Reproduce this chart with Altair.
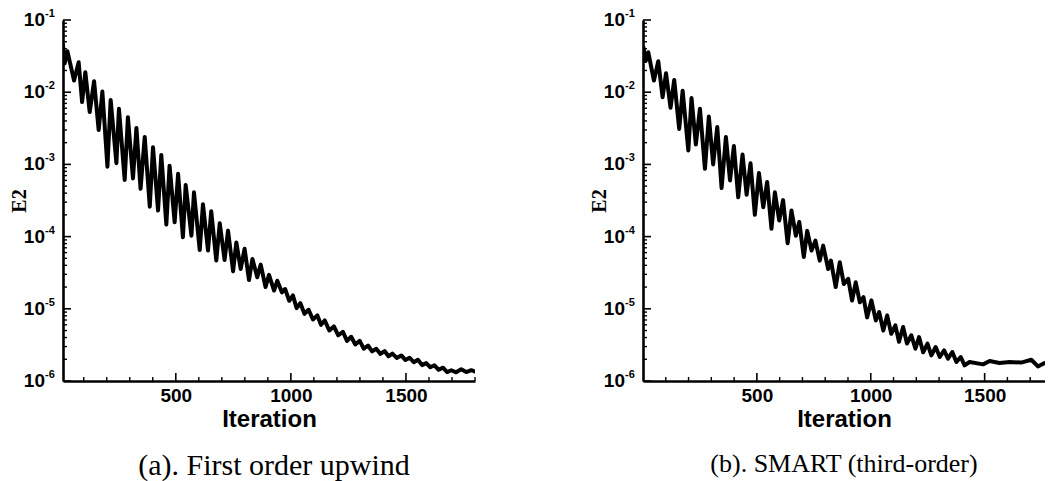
import altair as alt
import pandas as pd

# ---------------- data ----------------
A_PEAK_IT = [10, 29, 78, 107, 145, 181, 217, 253, 292, 329, 365, 401, 437, 473, 510, 543, 579, 618, 654, 691,
             727, 763, 799, 833, 869, 905, 941, 975, 1009, 1041, 1077, 1115, 1147, 1187, 1226, 1262, 1299, 1335,
             1371, 1407, 1441, 1480, 1516, 1552, 1588, 1624, 1661, 1697, 1740, 1784]
A_PEAK_E2 = [4.5e-2, 3.7e-2, 2.6e-2, 1.89e-2, 1.42e-2, 1.02e-2, 7.8e-3, 5.9e-3, 4.5e-3, 3.2e-3,
             2.4e-3, 1.73e-3, 1.35e-3, 9.6e-4, 7.4e-4, 5.2e-4, 4.1e-4, 2.8e-4, 2.25e-4, 1.53e-4,
             1.21e-4, 8.3e-5, 6.8e-5, 4.9e-5, 4.1e-5, 2.95e-5, 2.45e-5, 1.88e-5, 1.53e-5, 1.2e-5,
             9.7e-6, 8.1e-6, 6.9e-6, 5.7e-6, 4.8e-6, 4.1e-6, 3.6e-6, 3.1e-6, 2.8e-6, 2.6e-6,
             2.4e-6, 2.26e-6, 2.1e-6, 1.97e-6, 1.77e-6, 1.65e-6, 1.53e-6, 1.41e-6, 1.45e-6, 1.41e-6]
A_TROUGH_IT = [17, 58, 93, 126, 165, 203, 242, 278, 314, 347, 387, 423, 459, 495, 531, 568, 604, 640, 676, 712,
               749, 782, 818, 854, 890, 927, 961, 993, 1025, 1059, 1096, 1131, 1167, 1206, 1244, 1280, 1317,
               1353, 1389, 1424, 1460, 1498, 1534, 1570, 1606, 1642, 1679, 1718, 1762, 1798]
A_TROUGH_E2 = [2.5e-2, 1.45e-2, 7.3e-3, 5.3e-3, 3.0e-3, 9.3e-4, 1.04e-3, 6.1e-4, 6.4e-4, 4.6e-4,
               2.6e-4, 2.3e-4, 1.47e-4, 1.58e-4, 9.8e-5, 1.03e-4, 6.5e-5, 6.4e-5, 4.65e-5, 4.75e-5,
               3.3e-5, 3.56e-5, 2.5e-5, 2.74e-5, 2.0e-5, 1.79e-5, 1.69e-5, 1.29e-5, 1.02e-5, 8.5e-6,
               7.1e-6, 6.0e-6, 5.0e-6, 4.3e-6, 3.6e-6, 3.2e-6, 2.8e-6, 2.57e-6, 2.37e-6, 2.2e-6,
               2.09e-6, 1.95e-6, 1.82e-6, 1.66e-6, 1.55e-6, 1.43e-6, 1.33e-6, 1.32e-6, 1.33e-6, 1.36e-6]

B_PEAK_IT = [2, 23, 67, 101, 137, 174, 213, 250, 289, 326, 364, 399, 437, 472, 509, 545, 579, 615, 652, 686,
             721, 757, 791, 825, 864, 901, 934, 968, 1003, 1037, 1072, 1108, 1142, 1178, 1212, 1249, 1285,
             1322, 1358, 1395, 1434, 1522, 1610, 1660, 1705, 1763, 1793]
B_PEAK_E2 = [4.2e-2, 3.58e-2, 2.69e-2, 1.83e-2, 1.48e-2, 1.05e-2, 8.3e-3, 5.9e-3, 4.6e-3, 3.3e-3,
             2.4e-3, 1.8e-3, 1.37e-3, 1.04e-3, 7.6e-4, 5.7e-4, 4.1e-4, 3.2e-4, 2.3e-4, 1.6e-4,
             1.2e-4, 8.8e-5, 7.5e-5, 4.65e-5, 4.4e-5, 2.6e-5, 2.33e-5, 1.45e-5, 1.31e-5, 9.0e-6,
             8.1e-6, 5.9e-6, 5.6e-6, 4.3e-6, 4.06e-6, 3.3e-6, 2.96e-6, 2.66e-6, 2.52e-6, 2.15e-6,
             1.83e-6, 1.89e-6, 1.83e-6, 1.8e-6, 1.97e-6, 1.77e-6, 1.68e-6]
B_TROUGH_IT = [12, 48, 86, 121, 159, 199, 232, 272, 308, 345, 382, 418, 455, 491, 528, 564, 598, 635, 671, 706,
               740, 776, 813, 846, 882, 918, 952, 984, 1022, 1055, 1090, 1124, 1159, 1196, 1230, 1266, 1303,
               1339, 1376, 1412, 1493, 1565, 1734]
B_TROUGH_E2 = [2.7e-2, 1.45e-2, 8.5e-3, 6.1e-3, 3.1e-3, 1.56e-3, 1.88e-3, 8.7e-4, 1.0e-3, 4.7e-4,
               6.0e-4, 3.5e-4, 3.8e-4, 2.0e-4, 2.55e-4, 1.28e-4, 1.67e-4, 8.1e-5, 1.03e-4, 5.2e-5,
               6.4e-5, 4.65e-5, 3.56e-5, 2.0e-5, 2.2e-5, 1.3e-5, 1.23e-5, 7.6e-6, 6.9e-6, 5.0e-6,
               4.5e-6, 3.5e-6, 3.3e-6, 2.8e-6, 2.5e-6, 2.26e-6, 2.15e-6, 2.04e-6, 1.83e-6, 1.65e-6,
               1.7e-6, 1.78e-6, 1.59e-6]

Y_DECADES = [1e-1, 1e-2, 1e-3, 1e-4, 1e-5, 1e-6]
Y_EXP = ["-1", "-2", "-3", "-4", "-5", "-6"]
Y_MINOR = [k * d for d in [1e-2, 1e-3, 1e-4, 1e-5, 1e-6] for k in range(2, 10)]
X_MAJOR = [500, 1000, 1500]
X_MINOR = [v for v in range(100, 1801, 100) if v not in X_MAJOR]

CAPTION_A = "(a). First order upwind"
CAPTION_B = "(b). SMART (third-order)"

H = 361
SANS = "Liberation Sans"
SERIF = "Liberation Serif"


def panel(pk_it, pk_e, tr_it, tr_e, xdom, width, caption, cap_size, cap_dx):
    df = pd.DataFrame({"it": pk_it + tr_it, "e2": pk_e + tr_e}).sort_values("it")
    xs = alt.Scale(domain=xdom, nice=False, zero=False)
    ys = alt.Scale(type="log", domain=[1e-6, 1e-1], nice=False)
    xaxis = alt.Axis(
        values=X_MAJOR, format="d", ticks=False, grid=False, domainColor="black", domainWidth=2.6,
        labelFont=SANS, labelFontWeight="bold", labelFontSize=19, labelColor="black",
        labelPadding=5, title="Iteration", titleFont=SANS, titleFontWeight="bold",
        titleFontSize=24, titleColor="black", titlePadding=2)
    yaxis = alt.Axis(
        labels=False, ticks=False, grid=False, domainColor="black", domainWidth=2.6,
        title="E2", titleFont=SERIF, titleFontWeight="bold", titleFontSize=20,
        titleColor="#000000", titlePadding=34)

    def X(f):
        return alt.X(f, scale=xs, axis=xaxis)

    def Y(f):
        return alt.Y(f, scale=ys, axis=yaxis)

    line = alt.Chart(df).mark_line(
        color="black", strokeWidth=4, strokeJoin="round", strokeCap="round", clip=True
    ).encode(x=X("it:Q"), y=Y("e2:Q"), order="it:Q")

    ymaj = pd.DataFrame({"v": Y_DECADES, "lab": Y_EXP})
    ymin = pd.DataFrame({"v": Y_MINOR})
    xmaj = pd.DataFrame({"v": X_MAJOR})
    xmin = pd.DataFrame({"v": [v for v in X_MINOR if v <= xdom[1]]})

    ytick_major = alt.Chart(ymaj).mark_rule(color="black", strokeWidth=1.6).encode(
        y=Y("v:Q"), x=alt.value(0), x2=alt.value(8))
    ytick_minor = alt.Chart(ymin).mark_rule(color="black", strokeWidth=1.4).encode(
        y=Y("v:Q"), x=alt.value(0), x2=alt.value(4))
    xtick_major = alt.Chart(xmaj).mark_rule(color="black", strokeWidth=1.6).encode(
        x=X("v:Q"), y=alt.value(H), y2=alt.value(H - 8))
    xtick_minor = alt.Chart(xmin).mark_rule(color="black", strokeWidth=1.4).encode(
        x=X("v:Q"), y=alt.value(H), y2=alt.value(H - 4))

    ten = alt.Chart(ymaj).mark_text(
        text="10", align="right", baseline="middle", font=SANS, fontWeight="bold",
        fontSize=19, color="black"
    ).encode(y=Y("v:Q"), x=alt.value(-18))
    expo = alt.Chart(ymaj).mark_text(
        align="left", baseline="middle", font=SANS, fontWeight="bold", fontSize=11,
        color="black", dy=-6
    ).encode(y=Y("v:Q"), x=alt.value(-18), text="lab:N")

    return alt.layer(line, ytick_major, ytick_minor, xtick_major, xtick_minor, ten, expo).properties(
        width=width, height=H,
        title=alt.TitleParams(caption, orient="bottom", font=SERIF, fontSize=cap_size,
                              fontWeight="normal", color="black", anchor="middle",
                              offset=20, dx=cap_dx),
    )


pa = panel(A_PEAK_IT, A_PEAK_E2, A_TROUGH_IT, A_TROUGH_E2, [10, 1800], 412, CAPTION_A, 30, 5)
pb = panel(B_PEAK_IT, B_PEAK_E2, B_TROUGH_IT, B_TROUGH_E2, [0, 1765], 402, CAPTION_B, 26, 0)

chart = alt.hconcat(pa, pb, spacing=113).properties(
    padding={"left": 1, "top": 0, "right": 0, "bottom": 0}
).configure_view(stroke=None)
chart.save("out.html", embed_options={"renderer": "svg", "actions": False})
